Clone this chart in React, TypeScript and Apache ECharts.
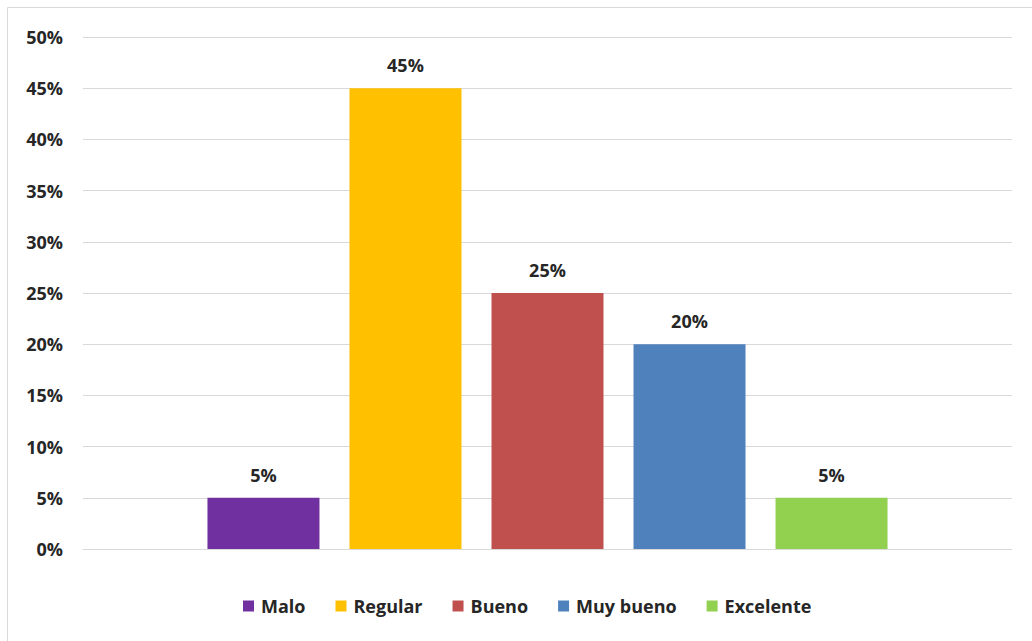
import React, { useEffect, useRef } from "react";
import * as echarts from "echarts";

const categories = ["Calificación"];
const seriesNames = ["Malo", "Regular", "Bueno", "Muy bueno", "Excelente"];
const seriesValues = [5, 45, 25, 20, 5];
const seriesColors = ["#7030A0", "#FFC000", "#C0504D", "#4F81BD", "#92D050"];
const yTicks = [0, 5, 10, 15, 20, 25, 30, 35, 40, 45, 50];

const FONT = "'Open Sans', 'Noto Sans', sans-serif";

export default function App() {
  const ref = useRef<HTMLDivElement>(null);
  useEffect(() => {
    document.body.style.margin = "0";
    const chart = echarts.init(ref.current!, undefined, { renderer: "svg" });
    chart.setOption({
      animation: false,
      backgroundColor: "#ffffff",
      graphic: [
        {
          type: "rect",
          shape: { x: 7.5, y: 7.5, width: 1040, height: 660 },
          style: { fill: "none", stroke: "#d9d9d9", lineWidth: 1 },
          silent: true,
        },
      ],
      grid: { left: 83, right: 20, top: 37, bottom: 92, containLabel: false },
      legend: {
        top: 592,
        left: 238,
        itemWidth: 11,
        itemHeight: 11,
        itemGap: 30,
        icon: "rect",
        textStyle: { fontFamily: FONT, fontWeight: "bold", fontSize: 18, color: "#262626", padding: [0, 0, 0, 2] },
        data: seriesNames,
      },
      xAxis: {
        type: "category",
        data: categories,
        axisLine: { show: true, lineStyle: { color: "#d9d9d9" } },
        axisTick: { show: false },
        axisLabel: { show: false },
      },
      yAxis: {
        type: "value",
        min: yTicks[0],
        max: yTicks[yTicks.length - 1],
        interval: 5,
        axisLine: { show: false },
        axisTick: { show: false },
        splitLine: { lineStyle: { color: "#d9d9d9" } },
        axisLabel: {
          formatter: (v: number) => v + "%",
          fontFamily: FONT,
          fontWeight: "bold",
          fontSize: 18,
          color: "#262626",
          margin: 20,
        },
      },
      series: seriesNames.map((name, i) => ({
        name,
        type: "bar",
        barWidth: 112,
        barGap: "26.8%",
        data: [seriesValues[i]],
        itemStyle: { color: seriesColors[i] },
        label: {
          show: true,
          position: "top",
          distance: 14,
          formatter: (p: any) => p.value + "%",
          fontFamily: FONT,
          fontWeight: "bold",
          fontSize: 18,
          color: "#262626",
        },
      })),
    });
    return () => chart.dispose();
  }, []);
  return <div ref={ref} style={{ width: 1032, height: 641 }} />;
}
